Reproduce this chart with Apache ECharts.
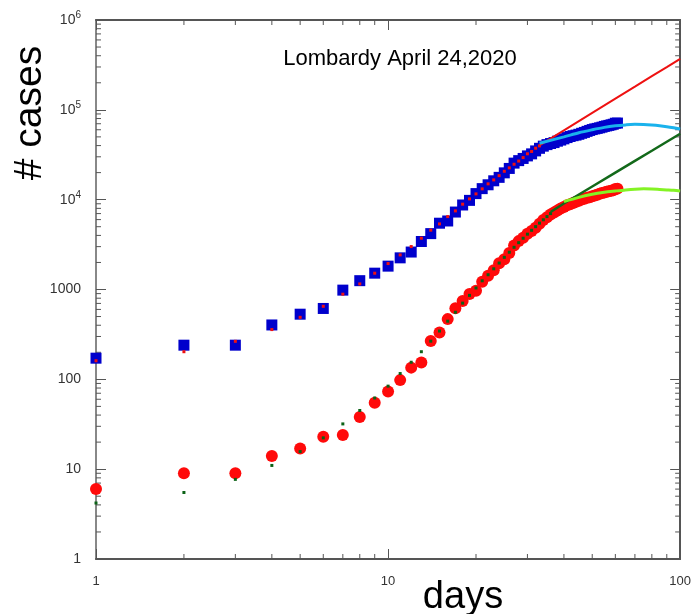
<!DOCTYPE html>
<html>
<head>
<meta charset="utf-8">
<title>Lombardy April 24,2020</title>
<script src="https://cdn.jsdelivr.net/npm/echarts/dist/echarts.min.js"></script>
<style>
  html, body {margin: 0; padding: 0; background: #fff;}
  #main {width: 694px; height: 614px;}
</style>
</head>
<body>
<div id="main"></div>
<script>
// daily totals, day 1 = Feb 24
var cases = [172, 240, 240, 403, 531, 615, 984, 1254, 1520, 1820,
    2251, 2612, 3420, 4189, 5469, 5791, 7280, 8725, 9820, 11685,
    13272, 14649, 16220, 17713, 19884, 22264, 25515, 27206, 28761, 30703,
    32346, 34889, 37298, 39415, 41007, 42161, 43208, 44773, 46065, 47520,
    49118, 50455, 51534, 52325, 53414, 54802, 56048, 57592, 58966, 60314,
    61326, 62153, 63094, 64135, 65381, 66236, 67098, 68116, 69092, 70968, 71256];
var deaths = [6, 9, 9, 14, 17, 23, 24, 38, 55, 73,
    98, 135, 154, 267, 333, 468, 617, 744, 890, 966,
    1218, 1420, 1640, 1959, 2168, 2549, 3095, 3456, 3776, 4178,
    4474, 4861, 5402, 5944, 6360, 6818, 7199, 7593, 7960, 8311,
    8656, 8905, 9202, 9484, 9722, 10022, 10238, 10511, 10621, 10901,
    11142, 11377, 11608, 11851, 12050, 12213, 12376, 12579, 12740, 13106, 13269];

// model values at days 1..33 (small red dots) and 1..36 (small green dots)
var casesFit = [161, 203, 265, 358, 490, 650, 887, 1154, 1518, 1944,
    2427, 3006, 3724, 4575, 5374, 6480, 7500, 8910, 10200, 11600,
    13200, 15000, 16600, 18500, 20700, 22600, 24800, 26900, 29400, 32400,
    34400, 37400, 39700];
var deathsFit = [4.2, 5.5, 7.7, 11, 15.7, 22.3, 31.9, 45, 62, 84,
    116, 155, 203, 266, 345, 444, 558, 705, 860, 1040,
    1250, 1460, 1700, 1970, 2280, 2600, 2950, 3320, 3720, 4130,
    4560, 5010, 5480, 5970, 6480, 7000];

// extrapolations
var casesPowDays = [33, 40, 50, 60, 70, 80, 90, 100];
var casesPow = [40300, 59200, 92500, 133000, 181000, 237000, 299000, 370000];
var casesSatDays = [33, 40, 45, 50, 55, 60, 65, 70, 75, 80, 85, 90, 95, 100];
var casesSat = [42500, 50000, 55600, 60000, 63800, 66400, 68000, 68900, 68500, 67600, 66400, 64900, 63100, 61200];
var deathsPowDays = [36, 40, 50, 60, 70, 80, 90, 100];
var deathsPow = [7300, 9060, 14000, 20000, 27000, 35000, 44100, 54100];
var deathsSatDays = [40, 45, 50, 55, 60, 65, 70, 75, 80, 85, 90, 95, 100];
var deathsSat = [9500, 10600, 11500, 12100, 12500, 12850, 13100, 13200, 13150, 13000, 12850, 12700, 12500];

var minorSteps = [2, 3, 4, 5, 6, 7, 8, 9];

function pairs(xs, ys) {
    var out = [];
    for (var i = 0; i < ys.length; i++) out.push([xs ? xs[i] : i + 1, ys[i]]);
    return out;
}

window.onload = function () {
    var myChart = echarts.init(document.getElementById("main"));
    var font = "Liberation Sans, Arial, Helvetica, sans-serif";
    var axisColor = "#555";

    // minor tick positions, drawn inward on all four sides
    var xMinor = [], yMinor = [];
    [1, 10].forEach(function (d) { minorSteps.forEach(function (s) { xMinor.push([s * d, 1]); }); });
    [1, 10, 100, 1000, 1e4, 1e5].forEach(function (d) { minorSteps.forEach(function (s) { yMinor.push([1, s * d]); }); });

    function tick(x1, y1, x2, y2) {
        return {type: "line", shape: {x1: x1, y1: y1, x2: x2, y2: y2}, style: {stroke: axisColor, lineWidth: 1}};
    }

    var logX = {type: "log", logBase: 10, min: 1, max: 100, splitLine: {show: false}};
    var logY = {type: "log", logBase: 10, min: 1, max: 1000000, splitLine: {show: false}};

    var option = {
        animation: false,
        textStyle: {fontFamily: font},
        grid: {left: 96, right: 12, top: 20, bottom: 55, containLabel: false},
        xAxis: [
            Object.assign({}, logX, {
                position: "bottom",
                axisLine: {lineStyle: {color: axisColor, width: 2}},
                axisTick: {inside: true, length: 10, lineStyle: {color: axisColor}},
                axisLabel: {margin: 16, fontSize: 13, color: "#333",
                    formatter: function (v) { return String(Math.round(v)); }}
            }),
            Object.assign({}, logX, {
                position: "top",
                axisLine: {lineStyle: {color: axisColor, width: 2}},
                axisTick: {inside: true, length: 10, lineStyle: {color: axisColor}},
                axisLabel: {show: false}
            })
        ],
        yAxis: [
            Object.assign({}, logY, {
                position: "left",
                axisLine: {lineStyle: {color: "#888", width: 2}},
                axisTick: {inside: true, length: 10, lineStyle: {color: axisColor}},
                axisLabel: {margin: 15, color: "#333",
                    formatter: function (v) {
                        var e = Math.round(Math.log10(v));
                        if (e >= 4) return "{b|10}{s|" + e + "}";
                        return "{b|" + Math.round(v) + "}";
                    },
                    rich: {
                        b: {fontSize: 14, color: "#333", fontFamily: font},
                        s: {fontSize: 10, color: "#333", fontFamily: font, verticalAlign: "top", padding: [0, 0, 9, 0]}
                    }}
            }),
            Object.assign({}, logY, {
                position: "right",
                axisLine: {lineStyle: {color: axisColor, width: 2}},
                axisTick: {inside: true, length: 10, lineStyle: {color: axisColor}},
                axisLabel: {show: false}
            })
        ],
        graphic: [
            {type: "text", x: 400, y: 59, style: {text: "Lombardy April 24,2020", fontSize: 22, fontFamily: font,
                fill: "#000", textAlign: "center", textVerticalAlign: "middle"}},
            {type: "text", x: 30, y: 113, rotation: Math.PI / 2, style: {text: "# cases", fontSize: 39, fontFamily: font,
                fill: "#000", textAlign: "center", textVerticalAlign: "middle"}},
            {type: "text", x: 463, y: 598, style: {text: "days", fontSize: 38, fontFamily: font,
                fill: "#000", textAlign: "center", textVerticalAlign: "middle"}}
        ],
        series: [
            {name: "cases", type: "scatter", symbol: "rect", symbolSize: 11,
                itemStyle: {color: "#0000cc", opacity: 1}, data: pairs(null, cases)},
            {name: "cases fit", type: "scatter", symbol: "rect", symbolSize: 3,
                itemStyle: {color: "#ee1111", opacity: 1}, data: pairs(null, casesFit)},
            {name: "cases power", type: "line", showSymbol: false, lineStyle: {color: "#ee1111", width: 2},
                data: pairs(casesPowDays, casesPow)},
            {name: "cases saturation", type: "line", showSymbol: false, smooth: 0.3,
                lineStyle: {color: "#1ab2ec", width: 3}, data: pairs(casesSatDays, casesSat)},
            {name: "deaths", type: "scatter", symbol: "circle", symbolSize: 12,
                itemStyle: {color: "#ff0a0a", opacity: 1}, data: pairs(null, deaths)},
            {name: "deaths fit", type: "scatter", symbol: "rect", symbolSize: 3,
                itemStyle: {color: "#0b6216", opacity: 1}, data: pairs(null, deathsFit)},
            {name: "deaths power", type: "line", showSymbol: false, lineStyle: {color: "#13691a", width: 2.5},
                data: pairs(deathsPowDays, deathsPow)},
            {name: "deaths saturation", type: "line", showSymbol: false, smooth: 0.3,
                lineStyle: {color: "#84f324", width: 3}, data: pairs(deathsSatDays, deathsSat)},
            {name: "x minor ticks", type: "custom", silent: true, data: xMinor,
                renderItem: function (params, api) {
                    var b = api.coord([api.value(0), 1]);
                    var t = api.coord([api.value(0), 1000000]);
                    return {type: "group", children: [tick(b[0], b[1], b[0], b[1] - 5), tick(t[0], t[1], t[0], t[1] + 5)]};
                }},
            {name: "y minor ticks", type: "custom", silent: true, data: yMinor,
                renderItem: function (params, api) {
                    var l = api.coord([1, api.value(1)]);
                    var r = api.coord([100, api.value(1)]);
                    return {type: "group", children: [tick(l[0], l[1], l[0] + 5, l[1]), tick(r[0], r[1], r[0] - 5, r[1])]};
                }}
        ]
    };
    myChart.setOption(option);
};
</script>
</body>
</html>
